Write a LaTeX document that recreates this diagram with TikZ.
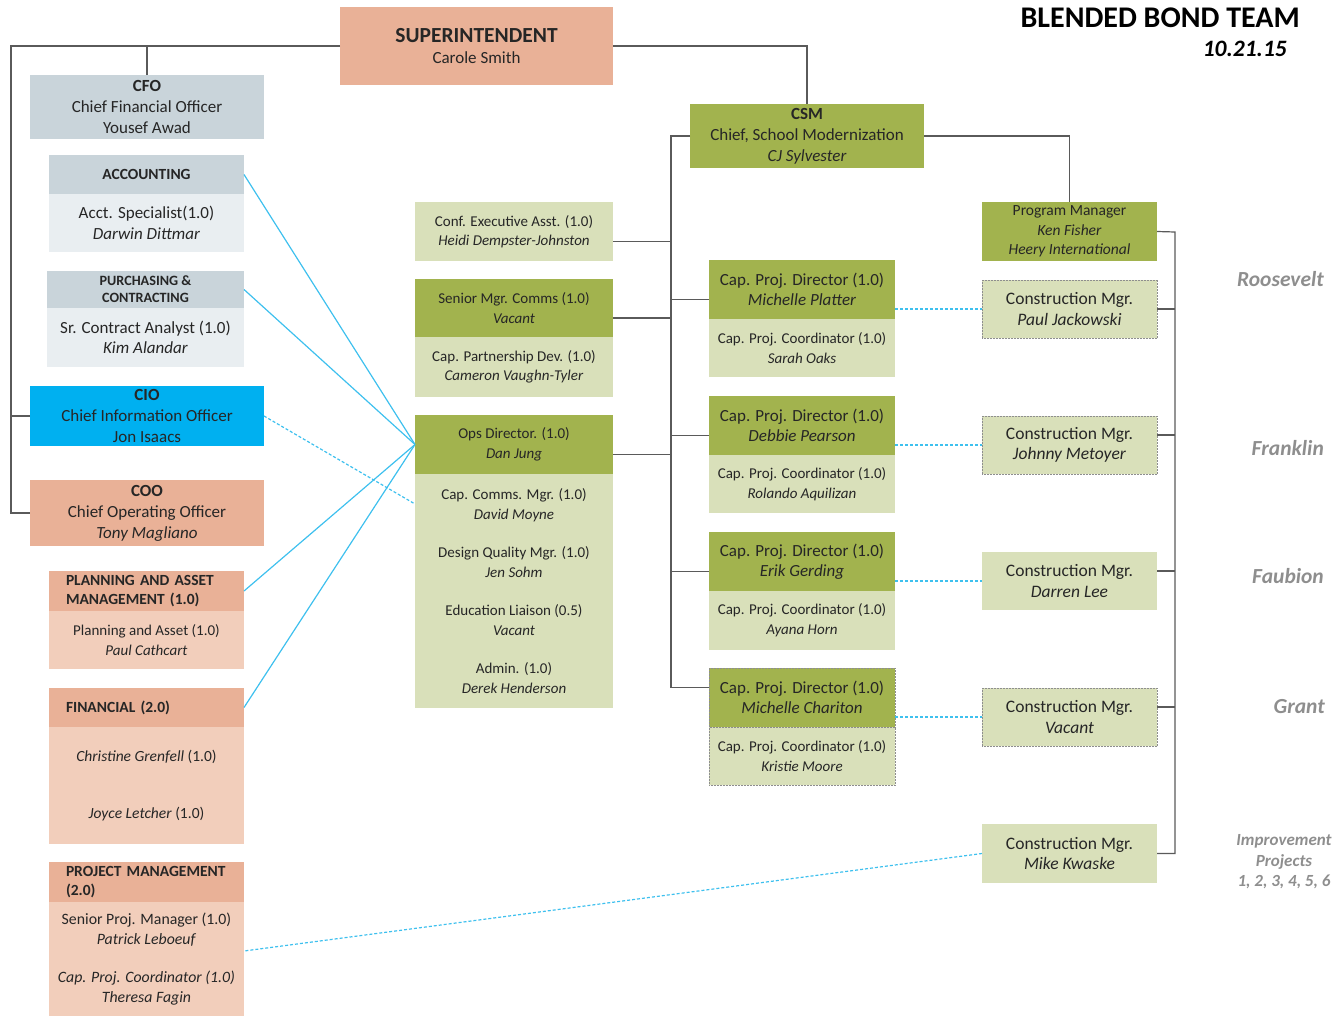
\documentclass[tikz,border=0pt]{standalone}
\definecolor{BondSalmon}{HTML}{E9B197}
\definecolor{BondSalmonLight}{HTML}{F2CEBB}
\definecolor{BondSlate}{HTML}{C9D4DA}
\definecolor{BondSlateLight}{HTML}{E9EEF1}
\definecolor{BondCyan}{HTML}{00B0F0}
\definecolor{BondOlive}{HTML}{A2B34E}
\definecolor{BondOliveLight}{HTML}{D9E0BA}
\definecolor{BondLine}{HTML}{5A5A5A}
\definecolor{BondLink}{HTML}{3EC0EE}
\definecolor{BondGray}{HTML}{8E8E8E}
\usepackage{fontspec}
\setmainfont{Carlito}
\usepackage{tikz}
\usetikzlibrary{positioning,calc}
\tikzset{
    % Base node style
    basenode/.style={
        inner sep=0pt,
        outer sep=0pt,
        anchor=north west,
        align=center,
        text=black!85,
        font=\fontsize{17}{20.5}\selectfont
    },
    % Executive / unit header colours
    salmonnode/.style={basenode, fill=BondSalmon},
    salmonbody/.style={basenode, fill=BondSalmonLight, font=\fontsize{15.5}{19.5}\selectfont},
    slatenode/.style={basenode, fill=BondSlate},
    slatebody/.style={basenode, fill=BondSlateLight},
    cionode/.style={basenode, fill=BondCyan},
    olivenode/.style={basenode, fill=BondOlive},
    olivebody/.style={basenode, fill=BondOliveLight},
    % Left aligned unit header
    headleft/.style={
        align=left,
        text width=161pt,
        inner xsep=17pt,
        font=\fontsize{15.5}{19}\selectfont\bfseries
    },
    % Vacancy / pending border
    dottedbox/.style={draw=BondGray, densely dotted, line width=0.5pt},
    % Reporting line
    orgline/.style={draw=BondLine, line width=1.2pt},
    % Coordination link
    linkline/.style={draw=BondLink, line width=1.2pt},
    linkdash/.style={linkline, dash pattern=on 3pt off 2pt},
    % School name on the right
    sitelabel/.style={
        inner sep=0pt,
        anchor=east,
        text=BondGray,
        font=\fontsize{21.5}{24}\selectfont\bfseries\itshape
    }
}

\begin{document}
\begin{tikzpicture}[x=1pt, y=-1pt]
    \useasboundingbox (0,0) rectangle (1338,1016);

    % title
    \node[anchor=base east, inner sep=0pt, font=\fontsize{30}{32}\selectfont\bfseries] (title) at (1300,28) {BLENDED BOND TEAM};
    \node[anchor=base east, inner sep=0pt, font=\fontsize{23.5}{26}\selectfont\bfseries\itshape] (date) at (1287,57) {10.21.15};

    % superintendent
    \node[salmonnode, minimum width=273pt, minimum height=78pt] (super) at (340,7) {{\fontsize{21.5}{24}\selectfont\bfseries SUPERINTENDENT}\\Carole Smith};

    % left column
    \node[slatenode, minimum width=234pt, minimum height=64pt, font=\fontsize{17}{21}\selectfont] (cfo) at (30,75) {\textbf{CFO}\\Chief Financial Officer\\Yousef Awad};
    \node[slatenode, minimum width=195pt, minimum height=39pt, font=\fontsize{15.5}{17}\selectfont\bfseries] (acct) at (49,155) {ACCOUNTING};
    \node[slatebody, minimum width=195pt, minimum height=58pt, below=0pt of acct] (acctbody) {Acct. Specialist(1.0)\\\textit{Darwin Dittmar}};
    \node[slatenode, minimum width=197pt, minimum height=37pt, font=\fontsize{14.2}{17}\selectfont\bfseries] (purch) at (47,271) {PURCHASING \&\\CONTRACTING};
    \node[slatebody, minimum width=197pt, minimum height=59pt, below=0pt of purch] (purchbody) {Sr. Contract Analyst (1.0)\\\textit{Kim Alandar}};
    \node[cionode, minimum width=234pt, minimum height=60pt, font=\fontsize{17}{21}\selectfont] (cio) at (30,386) {\textbf{CIO}\\Chief Information Officer\\Jon Isaacs};
    \node[salmonnode, minimum width=234pt, minimum height=66pt, font=\fontsize{17}{21}\selectfont] (coo) at (30,480) {\textbf{COO}\\Chief Operating Officer\\\textit{Tony Magliano}};

    \node[salmonnode, headleft, minimum height=40pt] (plan) at (49,571) {PLANNING AND ASSET\\MANAGEMENT (1.0)};
    \node[salmonbody, minimum width=195pt, minimum height=58pt, below=0pt of plan, font=\fontsize{15}{19.5}\selectfont] (planbody) {Planning and Asset (1.0)\\\textit{Paul Cathcart}};
    \node[salmonnode, headleft, minimum height=39pt] (fin) at (49,688) {FINANCIAL (2.0)};
    \node[salmonbody, minimum width=195pt, minimum height=117pt, below=0pt of fin] (finbody) {\textit{Christine Grenfell} (1.0)\\[38pt]\textit{Joyce Letcher} (1.0)};
    \node[salmonnode, headleft, minimum height=40pt] (projmgmt) at (49,862) {PROJECT MANAGEMENT\\(2.0)};
    \node[salmonbody, minimum width=195pt, minimum height=114pt, below=0pt of projmgmt, font=\fontsize{15.8}{19.5}\selectfont] (projbody) {Senior Proj. Manager (1.0)\\\textit{Patrick Leboeuf}\\[19pt]\textit{Cap. Proj. Coordinator (1.0)}\\\textit{Theresa Fagin}};

    % middle column
    \node[olivebody, minimum width=198pt, minimum height=59pt, font=\fontsize{15}{19.5}\selectfont] (exec) at (415,202) {Conf. Executive Asst. (1.0)\\\textit{Heidi Dempster-Johnston}};
    \node[olivenode, minimum width=198pt, minimum height=58pt, font=\fontsize{15}{19.5}\selectfont] (comms) at (415,279) {Senior Mgr. Comms (1.0)\\\textit{Vacant}};
    \node[olivebody, minimum width=198pt, minimum height=60pt, below=0pt of comms, font=\fontsize{15}{19.5}\selectfont] (commsbody) {Cap. Partnership Dev. (1.0)\\\textit{Cameron Vaughn-Tyler}};
    \node[olivenode, minimum width=198pt, minimum height=59pt, font=\fontsize{15}{20}\selectfont] (ops) at (415,415) {Ops Director. (1.0)\\\textit{Dan Jung}};
    \node[olivebody, minimum width=198pt, minimum height=234pt, below=0pt of ops, font=\fontsize{15}{20}\selectfont] (opsbody) {Cap. Comms. Mgr. (1.0)\\\textit{David Moyne}\\[18pt]Design Quality Mgr. (1.0)\\\textit{Jen Sohm}\\[18pt]Education Liaison (0.5)\\\textit{Vacant}\\[18pt]Admin. (1.0)\\\textit{Derek Henderson}};

    % school modernization
    \node[olivenode, minimum width=234pt, minimum height=64pt, font=\fontsize{17}{21}\selectfont] (csm) at (690,104) {\textbf{CSM}\\Chief, School Modernization\\\textit{CJ Sylvester}};

    \node[olivenode, minimum width=186pt, minimum height=59pt] (cpda) at (709,260) {Cap. Proj. Director (1.0)\\\textit{Michelle Platter}};
    \node[olivebody, minimum width=186pt, minimum height=58pt, below=0pt of cpda, font=\fontsize{15}{20}\selectfont] (cpdabody) {Cap. Proj. Coordinator (1.0)\\\textit{Sarah Oaks}};
    \node[olivenode, minimum width=186pt, minimum height=59pt] (cpdb) at (709,396) {Cap. Proj. Director (1.0)\\\textit{Debbie Pearson}};
    \node[olivebody, minimum width=186pt, minimum height=58pt, below=0pt of cpdb, font=\fontsize{15}{20}\selectfont] (cpdbbody) {Cap. Proj. Coordinator (1.0)\\\textit{Rolando Aquilizan}};
    \node[olivenode, minimum width=186pt, minimum height=59pt] (cpdc) at (709,532) {Cap. Proj. Director (1.0)\\\textit{Erik Gerding}};
    \node[olivebody, minimum width=186pt, minimum height=59pt, below=0pt of cpdc, font=\fontsize{15}{20}\selectfont] (cpdcbody) {Cap. Proj. Coordinator (1.0)\\\textit{Ayana Horn}};
    \node[olivenode, dottedbox, minimum width=186pt, minimum height=59pt] (cpdd) at (709,668) {Cap. Proj. Director (1.0)\\\textit{Michelle Chariton}};
    \node[olivebody, dottedbox, minimum width=186pt, minimum height=58pt, below=0pt of cpdd, font=\fontsize{15}{20}\selectfont] (cpddbody) {Cap. Proj. Coordinator (1.0)\\\textit{Kristie Moore}};

    % program management
    \node[olivenode, minimum width=175pt, minimum height=59pt, font=\fontsize{15.5}{19.5}\selectfont] (progmgr) at (982,202) {Program Manager\\\textit{Ken Fisher}\\\textit{Heery International}};
    \node[olivebody, dottedbox, minimum width=175pt, minimum height=58pt, font=\fontsize{17.5}{20.5}\selectfont] (cma) at (982,280) {Construction Mgr.\\\textit{Paul Jackowski}};
    \node[olivebody, dottedbox, minimum width=175pt, minimum height=58pt, font=\fontsize{17.5}{20.5}\selectfont] (cmb) at (982,416) {Construction Mgr.\\\textit{Johnny Metoyer}};
    \node[olivebody, minimum width=175pt, minimum height=58pt, font=\fontsize{17.5}{20.5}\selectfont] (cmc) at (982,552) {Construction Mgr.\\\textit{Darren Lee}};
    \node[olivebody, dottedbox, minimum width=175pt, minimum height=58pt, font=\fontsize{17.5}{20.5}\selectfont] (cmd) at (982,688) {Construction Mgr.\\\textit{Vacant}};
    \node[olivebody, minimum width=175pt, minimum height=59pt, font=\fontsize{17.5}{20.5}\selectfont] (cme) at (982,824) {Construction Mgr.\\\textit{Mike Kwaske}};

    % schools
    \node[sitelabel] (roosevelt) at (1324,279) {Roosevelt};
    \node[sitelabel] (franklin) at (1324,448) {Franklin};
    \node[sitelabel] (faubion) at (1324,576) {Faubion};
    \node[sitelabel] (grant) at (1325,707) {Grant};
    \node[sitelabel, anchor=center, align=center, font=\fontsize{17}{20.5}\selectfont\bfseries\itshape] (improve) at (1284,862) {Improvement\\Projects\\1, 2, 3, 4, 5, 6};

    % reporting lines
    \coordinate (spine) at (11,46);
    \draw[orgline] (super.west) -- (spine) |- (coo.west);
    \draw[orgline] (spine |- cio.west) -- (cio.west);
    \draw[orgline] (cfo.north) -- (cfo.north |- super.west);
    \draw[orgline] (super.east) -| (csm.north);
    \draw[orgline] (csm.east) -| (progmgr.north);

    \coordinate (midspine) at (671,136);
    \draw[orgline] (csm.west) -- (midspine) |- ([yshift=10pt]cpdd.west);
    \draw[orgline] ([yshift=-10pt]exec.east) -- ([yshift=-10pt]exec.east -| midspine);
    \draw[orgline] ([yshift=-10pt]comms.east) -- ([yshift=-10pt]comms.east -| midspine);
    \draw[orgline] ([yshift=-10pt]ops.east) -- ([yshift=-10pt]ops.east -| midspine);
    \draw[orgline] ([yshift=-10pt]cpda.west) -- ([yshift=-10pt]cpda.west -| midspine);
    \draw[orgline] ([yshift=-10pt]cpdb.west) -- ([yshift=-10pt]cpdb.west -| midspine);
    \draw[orgline] ([yshift=-10pt]cpdc.west) -- ([yshift=-10pt]cpdc.west -| midspine);

    \coordinate (rightspine) at (1175,232);
    \draw[orgline] (progmgr.east) -- (rightspine) |- (cme.east);
    \draw[orgline] (cma.east) -- (cma.east -| rightspine);
    \draw[orgline] ([yshift=10pt]cmb.east) -- ([yshift=10pt]cmb.east -| rightspine);
    \draw[orgline] ([yshift=10pt]cmc.east) -- ([yshift=10pt]cmc.east -| rightspine);
    \draw[orgline] ([yshift=10pt]cmd.east) -- ([yshift=10pt]cmd.east -| rightspine);

    % coordination links
    \draw[linkline] (acct.east) -- (ops.west);
    \draw[linkline] (purch.east) -- (ops.west);
    \draw[linkline] (plan.east) -- (ops.west);
    \draw[linkline] (fin.east) -- (ops.west);
    \draw[linkdash] (cio.east) -- ([yshift=-30pt]opsbody.north west);
    \draw[linkdash] (cma.west -| cpda.east) -- (cma.west);
    \draw[linkdash] (cmb.west -| cpdb.east) -- (cmb.west);
    \draw[linkdash] (cmc.west -| cpdc.east) -- (cmc.west);
    \draw[linkdash] (cmd.west -| cpdd.east) -- (cmd.west);
    \draw[linkdash] (cme.west) -- ([yshift=8pt]projbody.east);
\end{tikzpicture}
\end{document}
